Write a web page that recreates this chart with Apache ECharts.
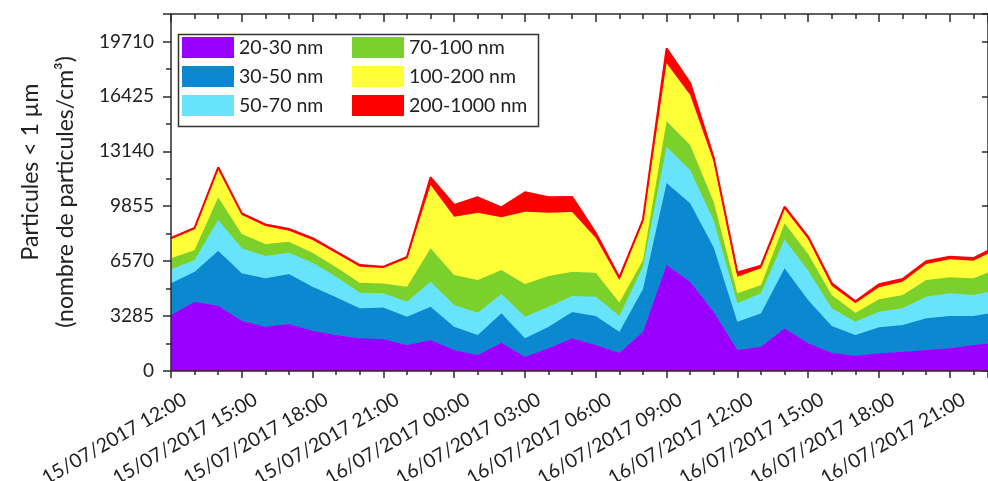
<!DOCTYPE html>
<html>
<head>
<meta charset="utf-8">
<script src="https://cdn.jsdelivr.net/npm/echarts@6/dist/echarts.min.js"></script>
<style>
  html, body { margin: 0; padding: 0; background: #fff; }
  #chart { width: 988px; height: 481px; }
</style>
</head>
<body>
<div id="chart"></div>
<script>
// heures depuis le 15/07/2017 12:00
var hours = [0,1,2,3,4,5,6,7,8,9,10,11,12,13,14,15,16,17,18,19,20,21,22,23,24,25,26,27,28,29,30,31,32,33,34,35];

var tickLabels = ['15/07/2017 12:00','15/07/2017 15:00','15/07/2017 18:00','15/07/2017 21:00',
  '16/07/2017 00:00','16/07/2017 03:00','16/07/2017 06:00','16/07/2017 09:00',
  '16/07/2017 12:00','16/07/2017 15:00','16/07/2017 18:00','16/07/2017 21:00'];

var yTicks = [0, 3285, 6570, 9855, 13140, 16425, 19710];

var names = ['20-30 nm','30-50 nm','50-70 nm','70-100 nm','100-200 nm','200-1000 nm'];
var colors = ['#9a00ff','#0c88d0','#67e4fc','#7cd02b','#ffff38','#ff0000'];

var nm20_30 = [3349,4144,3905,3008,2649,2811,2410,2153,1955,1914,1555,1854,1256,957,1692,855,1357,1955,
  1555,1094,2350,6339,5340,3528,1256,1453,2553,1656,1094,915,1058,1154,1256,1357,1555,1698];
var nm30_50 = [1896,1794,3289,2835,2894,2990,2631,2254,1794,1884,1692,1991,1393,1196,1758,1100,1292,1573,
  1734,1256,2553,4904,4688,3857,1692,1997,3588,2589,1597,1238,1555,1597,1896,1932,1734,1830];
var nm50_70 = [837,700,1836,1495,1334,1274,1435,1232,933,849,897,1495,1298,1334,1154,1292,1196,957,
  1154,939,1334,2153,1991,1585,1100,1196,1722,1752,1058,795,933,999,1292,1357,1256,1298];
var nm70_100 = [658,598,1357,855,718,658,598,562,598,586,897,1997,1794,1955,1435,1955,1836,1453,
  1435,807,401,1555,1495,1136,598,496,969,999,795,538,742,795,999,957,999,1274];
var nm100_200 = [1136,1238,1674,1136,1076,658,759,837,957,927,1686,3785,3486,4025,3151,4324,3785,3570,
  2075,1346,2272,3450,2990,2392,993,999,855,879,538,562,718,795,957,1076,1052,1178];
var nm200_1000 = [90,90,120,100,90,100,110,100,100,80,100,460,700,921,598,1160,921,897,
  299,150,150,897,718,239,250,160,150,150,170,120,180,160,160,160,160,160];

var values = [nm20_30, nm30_50, nm50_70, nm70_100, nm100_200, nm200_1000];

var t0 = Date.UTC(2017, 6, 15, 12, 0, 0);
var HOUR = 3600000;
var xMax = 34.62;
var labelShift = 0.59;
var txt = '#222';
var axisCol = '#2b2b2b';

var chart = echarts.init(document.getElementById('chart'));

var series = [];
for (var s = 0; s < names.length; s++) {
  var d = [];
  for (var i = 0; i < hours.length; i++) {
    d.push([t0 + hours[i] * HOUR, values[s][i]]);
  }
  series.push({
    name: names[s],
    type: 'line',
    stack: 'total',
    data: d,
    showSymbol: false,
    symbol: 'none',
    clip: true,
    xAxisIndex: 3,
    yAxisIndex: 0,
    lineStyle: { color: colors[s], width: s == 5 ? 2 : 1 },
    itemStyle: { color: colors[s] },
    areaStyle: { color: colors[s], opacity: 1 },
    z: 2 + s
  });
}

var option = {
  animation: false,
  backgroundColor: '#fff',
  grid: { left: 171, top: 14, right: 0, bottom: 110, containLabel: false, outerBoundsMode: 'none' },
  legend: [
    {
      data: names.slice(0, 3),
      orient: 'vertical',
      left: 182, top: 37,
      padding: 0,
      itemWidth: 52, itemHeight: 21, itemGap: 8,
      icon: 'rect',
      textStyle: { fontFamily: 'Lato', fontSize: 19.5, color: txt }
    },
    {
      data: names.slice(3, 6),
      orient: 'vertical',
      left: 352, top: 37,
      padding: 0,
      itemWidth: 52, itemHeight: 21, itemGap: 8,
      icon: 'rect',
      textStyle: { fontFamily: 'Lato', fontSize: 19.5, color: txt }
    }
  ],
  xAxis: [
    {
      type: 'value', position: 'bottom', min: 0, max: xMax, interval: 3,
      axisLine: { show: true, lineStyle: { color: axisCol, width: 1.5 } },
      axisTick: { show: true, inside: false, length: 7, lineStyle: { color: axisCol, width: 1.5 } },
      minorTick: { show: true, splitNumber: 3, length: 4, lineStyle: { color: axisCol, width: 1.5 } },
      axisLabel: { show: false },
      splitLine: { show: false },
      z: 20
    },
    {
      type: 'value', position: 'top', min: 0, max: xMax, interval: 3,
      axisLine: { show: true, onZero: false, lineStyle: { color: axisCol, width: 1.5 } },
      axisTick: { show: true, inside: true, length: 8, lineStyle: { color: axisCol, width: 1.5 } },
      minorTick: { show: true, splitNumber: 3, length: 5, lineStyle: { color: axisCol, width: 1.5 } },
      axisLabel: { show: false },
      splitLine: { show: false }
    },
    {
      type: 'value', position: 'bottom', min: -labelShift, max: xMax - labelShift,
      axisLine: { show: false },
      axisTick: { show: false },
      splitLine: { show: false },
      axisLabel: {
        show: true,
        customValues: [0,3,6,9,12,15,18,21,24,27,30,33],
        rotate: 30,
        margin: 27,
        fontFamily: 'Lato', fontSize: 19.5, color: txt,
        formatter: function (v) { return tickLabels[Math.round(v / 3)]; }
      }
    },
    {
      // axe des données (temps), caché
      type: 'time', position: 'bottom', min: t0, max: t0 + xMax * HOUR,
      show: false
    }
  ],
  yAxis: [
    {
      type: 'value', position: 'left', min: 0, max: 21350, interval: 3285,
      axisLine: { show: true, onZero: false, lineStyle: { color: axisCol, width: 1.5 } },
      axisTick: { show: true, inside: false, length: 8, lineStyle: { color: axisCol, width: 1.5 } },
      minorTick: { show: true, splitNumber: 2, length: 5, lineStyle: { color: axisCol, width: 1.5 } },
      axisLabel: {
        showMaxLabel: false, margin: 17,
        fontFamily: 'Lato', fontSize: 19, color: txt,
        formatter: function (v) { return yTicks.indexOf(v) >= 0 ? String(v) : ''; }
      },
      splitLine: { show: false },
      z: 20
    },
    {
      type: 'value', position: 'right', min: 0, max: 21350, interval: 3285,
      axisLine: { show: true, onZero: false, lineStyle: { color: axisCol, width: 1.5 } },
      axisTick: { show: true, inside: true, length: 6, lineStyle: { color: axisCol, width: 1.5 } },
      minorTick: { show: false },
      axisLabel: { show: false },
      splitLine: { show: false }
    }
  ],
  graphic: [
    {
      type: 'rect', left: 176, top: 32, z: 100,
      shape: { width: 360, height: 92 },
      style: { fill: 'none', stroke: '#333', lineWidth: 1.5 }
    },
    {
      type: 'text', x: 31, y: 172, rotation: Math.PI / 2, z: 100,
      style: { text: 'Particules < 1 µm', font: '23px Lato', fill: txt,
        textAlign: 'center', textVerticalAlign: 'middle' }
    },
    {
      type: 'text', x: 66, y: 192, rotation: Math.PI / 2, z: 100,
      style: { text: '(nombre de particules/cm³)', font: '23px Lato', fill: txt,
        textAlign: 'center', textVerticalAlign: 'middle' }
    }
  ],
  series: series
};

chart.setOption(option);
</script>
</body>
</html>
